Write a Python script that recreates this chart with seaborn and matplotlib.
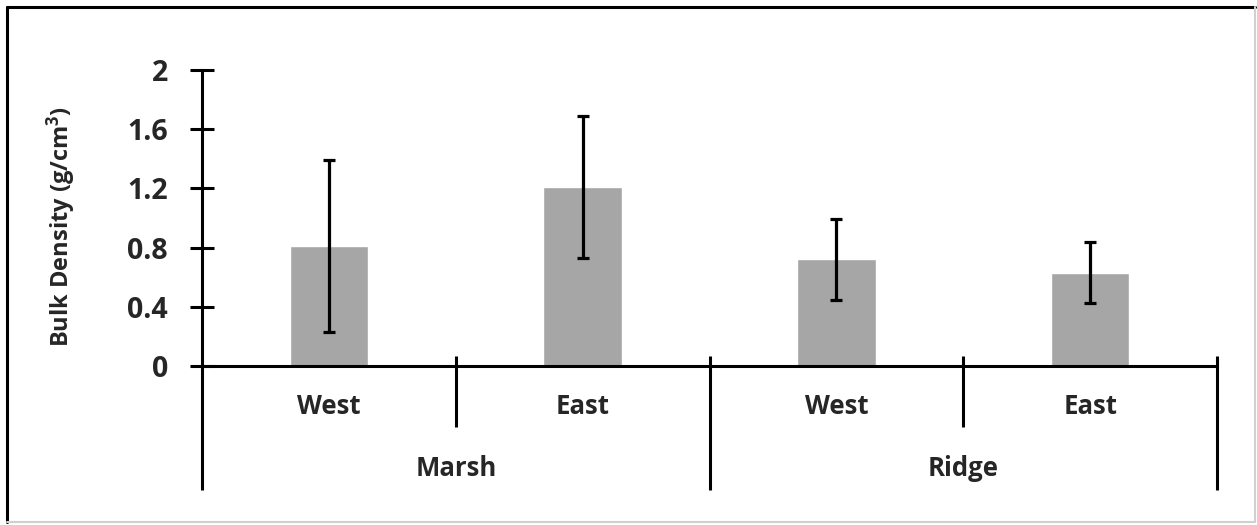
import matplotlib
matplotlib.use("Agg")
import matplotlib.pyplot as plt
import matplotlib.transforms as mtransforms
from matplotlib.lines import Line2D
import seaborn as sns
import pandas as pd

# Bulk density by site and side
sites = ["Marsh", "Marsh", "Ridge", "Ridge"]
sides = ["West", "East", "West", "East"]
density = [0.81, 1.21, 0.72, 0.63]
density_err = [0.58, 0.48, 0.275, 0.205]
y_ticks = [0, 0.4, 0.8, 1.2, 1.6, 2]
y_tick_labels = ["0", "0.4", "0.8", "1.2", "1.6", "2"]
group_names = ["Marsh", "Ridge"]

sns.set_theme(style="white")
plt.rcParams["font.family"] = ["Open Sans", "DejaVu Sans"]
plt.rcParams["font.weight"] = "bold"
plt.rcParams["mathtext.fontset"] = "custom"
plt.rcParams["mathtext.rm"] = "Open Sans:bold"
plt.rcParams["mathtext.bf"] = "Open Sans:bold"
plt.rcParams["mathtext.it"] = "Open Sans:bold"

df = pd.DataFrame({"slot": [f"{s}-{d}" for s, d in zip(sites, sides)],
                   "density": density})

W, H, DPI = 1257, 525, 100
fig = plt.figure(figsize=(W / DPI, H / DPI), dpi=DPI)
fig.patch.set_facecolor("white")
ax = fig.add_axes([202 / W, 1 - 366 / H, (1217 - 202) / W, (366 - 70) / H])

sns.barplot(data=df, x="slot", y="density", color="#a6a6a6", width=0.31,
            saturation=1, errorbar=None, ax=ax)
xs = list(range(len(density)))
ax.errorbar(xs, density, yerr=density_err, fmt="none", ecolor="black",
            elinewidth=2.3, capsize=4, capthick=2.3, zorder=3)

ax.set_xlim(-0.5, len(density) - 0.5)
ax.set_ylim(0, 2)
ax.set_yticks(y_ticks)
ax.set_yticklabels(y_tick_labels, fontsize=20.5, fontweight="bold")
ax.tick_params(axis="y", direction="inout", length=17, width=2.2, pad=16,
               color="black", left=True)
ax.set_xticks([])
ax.set_xlabel("")
ax.set_ylabel("Bulk Density (g/cm$^{\\mathbf{3}}$)", fontsize=17, fontweight="bold")
ax.yaxis.set_label_coords(-0.122, 0.473)

for side in ["top", "right"]:
    ax.spines[side].set_visible(False)
ax.spines["left"].set_linewidth(2.2)
ax.spines["bottom"].set_linewidth(2.2)
ax.spines["left"].set_color("black")
ax.spines["bottom"].set_color("black")
ax.spines["left"].set_bounds(0, 2)

# Two-level category axis drawn below the plot area
trans = mtransforms.blended_transform_factory(ax.transData, ax.transAxes)
lw = 2.2
tick_top = 10 / 296
short_bottom = -61 / 296
long_bottom = -124 / 296
for x in [-0.5, 1.5, 3.5]:
    top = 0 if x == -0.5 else tick_top
    ax.add_line(Line2D([x, x], [top, long_bottom], transform=trans, color="black",
                       lw=lw, clip_on=False, solid_capstyle="butt"))
for x in [0.5, 2.5]:
    ax.add_line(Line2D([x, x], [tick_top, short_bottom], transform=trans, color="black",
                       lw=lw, clip_on=False, solid_capstyle="butt"))
for x, lab in zip(xs, sides):
    ax.text(x, -41 / 296, lab, transform=trans, ha="center", va="center",
            fontsize=18.5, fontweight="bold")
for i, g in enumerate(group_names):
    ax.text(2 * i + 0.5, -102 / 296, g, transform=trans, ha="center", va="center",
            fontsize=18.5, fontweight="bold")

# Chart frame
fig.add_artist(Line2D([7 / W, 7 / W], [1 - 7 / H, 1 - 522 / H], color="black", lw=2.2))
fig.add_artist(Line2D([7 / W, 1255 / W], [1 - 7 / H, 1 - 7 / H], color="black", lw=2.2))
fig.add_artist(Line2D([1255 / W, 1255 / W], [1 - 7 / H, 1 - 522 / H], color="#d0d0d0", lw=1.5))
fig.add_artist(Line2D([7 / W, 1255 / W], [1 - 522 / H, 1 - 522 / H], color="#d0d0d0", lw=1.5))

fig.savefig("out.png", dpi=DPI, facecolor="white")
